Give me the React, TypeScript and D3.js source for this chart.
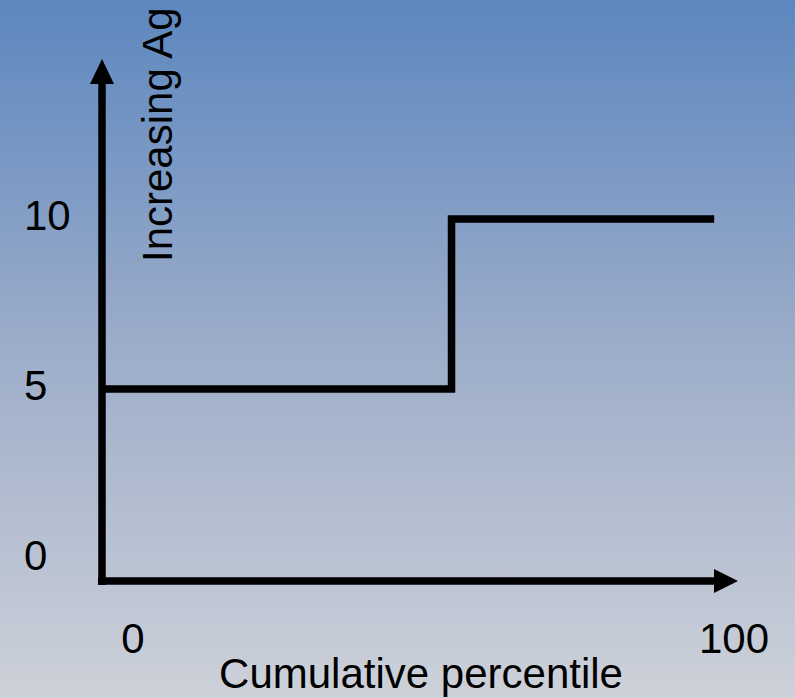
import React from "react";
import * as d3 from "d3";

// Data
const xTicks = [0, 100];
const yTicks = [0, 5, 10];
const percentile = [-5.2, 53, 96.7];
const agLevel = [5, 10, 10];
const xAxisLabel = "Cumulative percentile";
const yAxisLabel = "Increasing Ag";

const W = 795;
const H = 698;

export default function App() {
  const x = d3.scaleLinear().domain([0, 100]).range([133, 734]);
  const y = d3.scaleLinear().domain([0, 10]).range([559, 219]);

  const pts: [number, number][] = percentile.map((p, i) => [p, agLevel[i]]);
  const line = d3
    .line<[number, number]>()
    .x((d) => x(d[0]))
    .y((d) => y(d[1]))
    .curve(d3.curveStepAfter);

  const ax = 102; // y-axis x position
  const ay = 581; // x-axis y position
  const sw = 7.5;
  const font = "'Liberation Sans', Arial, sans-serif";

  return (
    <div style={{ position: "absolute", left: 0, top: 0 }}>
      <svg width={W} height={H} style={{ display: "block" }}>
        <defs>
          <linearGradient id="bg" x1="0" y1="0" x2="0" y2="1">
            <stop offset="0%" stopColor="#5c87bf" />
            <stop offset="50%" stopColor="#9dadc9" />
            <stop offset="100%" stopColor="#cdd1d9" />
          </linearGradient>
        </defs>
        <rect x={0} y={0} width={W} height={H} fill="url(#bg)" />

        {/* y axis */}
        <line x1={ax} y1={ay + 4} x2={ax} y2={82} stroke="#000" strokeWidth={sw} />
        <path d={`M${ax},59 L${ax - 12},84 L${ax + 12},84 Z`} fill="#000" />
        {/* x axis */}
        <line x1={ax - 4} y1={ay} x2={716} y2={ay} stroke="#000" strokeWidth={sw} />
        <path d={`M738,${ay} L714,${ay - 12} L714,${ay + 12} Z`} fill="#000" />

        {/* step line */}
        <path d={line(pts) || ""} fill="none" stroke="#000" strokeWidth={sw} strokeLinejoin="miter" />

        {/* y tick labels */}
        {yTicks.map((t) => (
          <text
            key={"y" + t}
            x={24}
            y={y(t) - 4}
            dominantBaseline="central"
            fontFamily={font}
            fontSize={42}
            fill="#000"
          >
            {t}
          </text>
        ))}

        {/* x tick labels */}
        {xTicks.map((t) => (
          <text
            key={"x" + t}
            x={x(t)}
            y={653}
            textAnchor="middle"
            fontFamily={font}
            fontSize={42}
            fill="#000"
          >
            {t}
          </text>
        ))}

        <text x={421} y={688} textAnchor="middle" fontFamily={font} fontSize={42} fill="#000">
          {xAxisLabel}
        </text>
        <text
          transform="translate(172,262) rotate(-90)"
          textAnchor="start"
          fontFamily={font}
          fontSize={42}
          fill="#000"
        >
          {yAxisLabel}
        </text>
      </svg>
    </div>
  );
}
